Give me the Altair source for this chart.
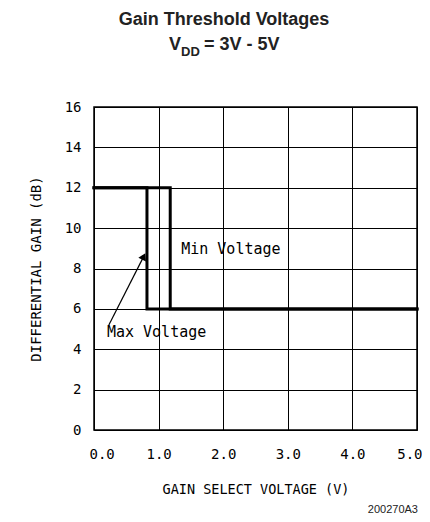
import altair as alt
import pandas as pd

# Data
max_x = [0.0, 0.82, 0.82, 5.0]
max_y = [12, 12, 6, 6]
min_x = [0.0, 1.18, 1.18, 5.0]
min_y = [12, 12, 6, 6]

x_ticks = [0, 1, 2, 3, 4, 5]
y_ticks = [0, 2, 4, 6, 8, 10, 12, 14, 16]

labels_text = ["Min Voltage", "Max Voltage"]
labels_x = [1.35, 0.2]
labels_y = [8.95, 4.85]

arrow_x = [0.23, 0.77]
arrow_y = [5.2, 8.6]

rows = []
for i, (x, y) in enumerate(zip(max_x, max_y)):
    rows.append({"series": "Max Voltage", "x": x, "y": y, "o": i})
for i, (x, y) in enumerate(zip(min_x, min_y)):
    rows.append({"series": "Min Voltage", "x": x, "y": y, "o": i})
df = pd.DataFrame(rows)

AX_FONT = "DejaVu Sans Mono"
AX_SIZE = 14

xs = alt.Scale(domain=[0, 5], nice=False)
ys = alt.Scale(domain=[0, 16], nice=False)

xaxis = alt.Axis(values=x_ticks, format=".1f", title="GAIN SELECT VOLTAGE (V)",
                 grid=True, gridColor="black", gridWidth=1, gridOpacity=1,
                 ticks=False, domain=False, labelPadding=17, titlePadding=21,
                 labelFlush=True, labelFlushOffset=5,
                 labelFont=AX_FONT, labelFontSize=AX_SIZE, labelColor="black",
                 titleFont=AX_FONT, titleFontSize=13.5, titleFontWeight="normal", titleColor="black")
yaxis = alt.Axis(values=y_ticks, format="d", title="DIFFERENTIAL GAIN (dB)",
                 grid=True, gridColor="black", gridWidth=1, gridOpacity=1,
                 ticks=False, domain=False, labelPadding=13, titlePadding=21,
                 labelFlush=False,
                 labelFont=AX_FONT, labelFontSize=AX_SIZE, labelColor="black",
                 titleFont=AX_FONT, titleFontSize=14, titleFontWeight="normal", titleColor="black")

lines = alt.Chart(df).mark_line(color="black", strokeWidth=3, strokeCap="square").encode(
    x=alt.X("x:Q", scale=xs, axis=xaxis),
    y=alt.Y("y:Q", scale=ys, axis=yaxis),
    detail="series:N",
    order="o:Q",
)

lab_df = pd.DataFrame({"t": labels_text, "x": labels_x, "y": labels_y})
labels = alt.Chart(lab_df).mark_text(align="left", baseline="middle", font=AX_FONT,
                                     fontSize=15, color="black").encode(
    x=alt.X("x:Q", scale=xs), y=alt.Y("y:Q", scale=ys), text="t:N")

arr_df = pd.DataFrame({"x": [arrow_x[0]], "y": [arrow_y[0]], "x2": [arrow_x[1]], "y2": [arrow_y[1]]})
arrow_line = alt.Chart(arr_df).mark_rule(color="black", strokeWidth=1.2).encode(
    x=alt.X("x:Q", scale=xs), y=alt.Y("y:Q", scale=ys), x2="x2:Q", y2="y2:Q")
head_df = pd.DataFrame({"x": [arrow_x[1]], "y": [arrow_y[1]]})
arrow_head = alt.Chart(head_df).mark_point(shape="triangle-up", filled=True, color="black",
                                           size=70, angle=26, opacity=1).encode(
    x=alt.X("x:Q", scale=xs), y=alt.Y("y:Q", scale=ys))

frame = alt.Chart(pd.DataFrame({"a": [0]})).mark_rect(fill=None, stroke="black", strokeWidth=1.5).encode(
    x=alt.value(0), x2=alt.value(323), y=alt.value(0), y2=alt.value(323))

TFONT = "Liberation Sans"
title1 = alt.Chart(pd.DataFrame({"t": ["Gain Threshold Voltages"]})).mark_text(
    font=TFONT, fontSize=18, fontWeight="bold", color="#222", align="center", baseline="alphabetic").encode(
    x=alt.value(130), y=alt.value(-82), text="t:N")
sub_v = alt.Chart(pd.DataFrame({"t": ["V"]})).mark_text(
    font=TFONT, fontSize=18, fontWeight="bold", color="#222", align="left", baseline="alphabetic").encode(
    x=alt.value(75), y=alt.value(-57), text="t:N")
sub_dd = alt.Chart(pd.DataFrame({"t": ["DD"]})).mark_text(
    font=TFONT, fontSize=13, fontWeight="bold", color="#222", align="left", baseline="alphabetic").encode(
    x=alt.value(87), y=alt.value(-51), text="t:N")
sub_rest = alt.Chart(pd.DataFrame({"t": ["= 3V - 5V"]})).mark_text(
    font=TFONT, fontSize=18, fontWeight="bold", color="#222", align="left", baseline="alphabetic").encode(
    x=alt.value(110), y=alt.value(-57), text="t:N")
foot = alt.Chart(pd.DataFrame({"t": ["200270A3"]})).mark_text(
    font=TFONT, fontSize=11, color="#222", align="right", baseline="middle").encode(
    x=alt.value(324), y=alt.value(403), text="t:N")

chart = alt.layer(lines, labels, arrow_line, arrow_head, frame, title1, sub_v, sub_dd, sub_rest, foot).properties(
    width=323, height=323,
    autosize=alt.AutoSizeParams(type="none"),
    padding={"left": 86, "top": 99, "right": 5, "bottom": 84},
).configure_view(stroke=None).configure(background="white")

chart.save("out.html", embed_options={"renderer": "svg", "actions": False})
